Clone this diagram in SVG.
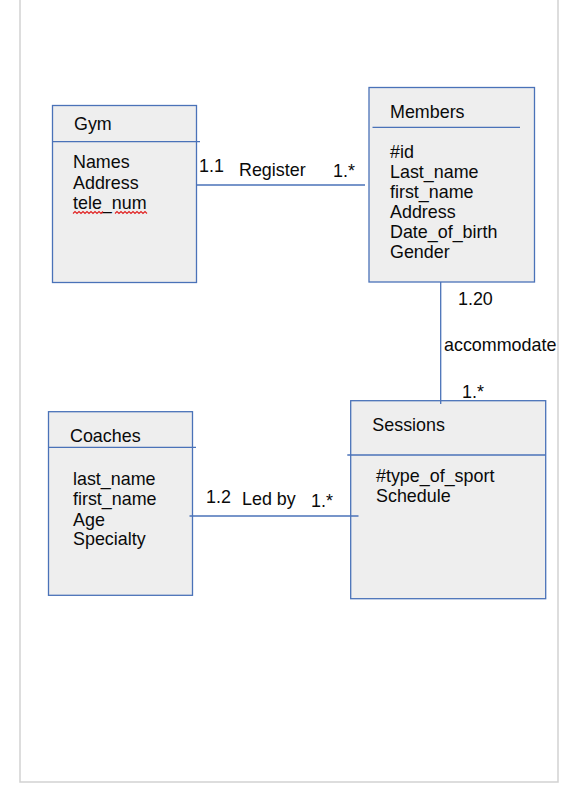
<svg xmlns="http://www.w3.org/2000/svg" width="579" height="794" viewBox="0 0 579 794">
<style>
.box{fill:#eeeeee;stroke:#4a72b8;stroke-width:1.3}
.div{stroke:#4a72b8;stroke-width:1.3;fill:none}
.con{stroke:#4a72b8;stroke-width:1.3;fill:none}
text{font-family:"Liberation Sans",Arial,sans-serif;font-size:17.9px;fill:#0a0a0a}
.sq{stroke:#e02020;stroke-width:1.1;fill:none}
</style>
<rect x="0" y="0" width="579" height="794" fill="#ffffff"/>
<path d="M20 0 V782 H558 V0" fill="none" stroke="#d2d2d2" stroke-width="1.5"/>
<g id="gym">
<rect class="box" x="52.5" y="105.5" width="144" height="177"/>
<line class="div" x1="52.5" y1="141.7" x2="200" y2="141.7"/>
<text x="74" y="129.5">Gym</text>
<text x="73" y="167.5">Names</text>
<text x="73" y="188.5">Address</text>
<text x="73" y="209">tele_num</text>
<path class="sq" d="M73 213.5 l2 -2 l2 2 l2 -2 l2 2 l2 -2 l2 2 l2 -2 l2 2 l2 -2 l2 2 l2 -2 l2 2 l2 -2 l2 2 l2 -2"/>
<path class="sq" d="M115 213.5 l2 -2 l2 2 l2 -2 l2 2 l2 -2 l2 2 l2 -2 l2 2 l2 -2 l2 2 l2 -2 l2 2 l2 -2 l2 2 l2 -2 l2 2"/>
</g>
<g id="members">
<rect class="box" x="369" y="87.5" width="165.5" height="194.5"/>
<line class="div" x1="372.5" y1="127.3" x2="520" y2="127.3"/>
<text x="390" y="118.3">Members</text>
<text x="390" y="158.3">#id</text>
<text x="390" y="178.3">Last_name</text>
<text x="390" y="198.3">first_name</text>
<text x="390" y="218.3">Address</text>
<text x="390" y="238.3">Date_of_birth</text>
<text x="390" y="258.3">Gender</text>
</g>
<g id="coaches">
<rect class="box" x="48.5" y="411.7" width="144" height="183.6"/>
<line class="div" x1="48.5" y1="447.3" x2="196" y2="447.3"/>
<text x="70" y="441.7">Coaches</text>
<text x="73" y="485">last_name</text>
<text x="73" y="505">first_name</text>
<text x="73" y="525.5">Age</text>
<text x="73" y="545">Specialty</text>
</g>
<g id="sessions">
<rect class="box" x="350.7" y="400.7" width="195" height="198"/>
<line class="div" x1="347.3" y1="455" x2="545.7" y2="455"/>
<text x="372.3" y="430.7">Sessions</text>
<text x="376" y="482.3">#type_of_sport</text>
<text x="376" y="501.7">Schedule</text>
</g>
<g id="connectors">
<line class="con" x1="196" y1="185" x2="365" y2="185"/>
<line class="con" x1="440.7" y1="282" x2="440.7" y2="404"/>
<line class="con" x1="189.5" y1="516" x2="358.5" y2="516"/>
<text x="199" y="172">1.1</text>
<text x="239" y="176">Register</text>
<text x="333" y="177">1.*</text>
<text x="458" y="305">1.20</text>
<text x="444" y="351">accommodate</text>
<text x="462" y="398">1.*</text>
<text x="206" y="503">1.2</text>
<text x="242" y="505">Led by</text>
<text x="311" y="506.5">1.*</text>
</g>
</svg>
